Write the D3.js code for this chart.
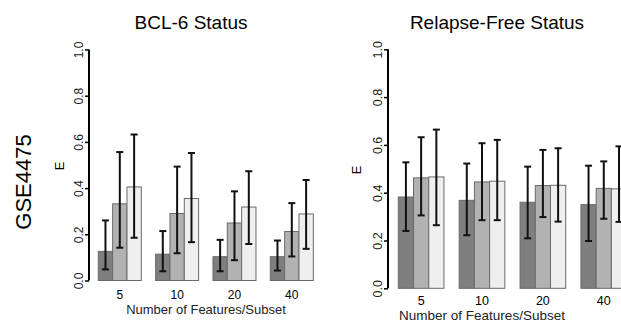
<!DOCTYPE html>
<html>
<head>
<meta charset="utf-8">
<script src="https://cdn.jsdelivr.net/npm/d3@7"></script>
<style>
  body { margin: 0; background: #fff; }
  svg { display: block; font-family: "Liberation Sans", Arial, sans-serif; }
</style>
</head>
<body>
<div id="chart"></div>
<script>
// groups on the x axis and y tick values
const featureCounts = ['5', '10', '20', '40'];
const yTicks = [0, 0.2, 0.4, 0.6, 0.8, 1.0];
const seriesColors = ['#7f7f7f', '#b2b2b2', '#efefef'];

// BCL-6 Status: mean, lower and upper error per series
const bclMean1 = [0.126, 0.114, 0.103, 0.103];
const bclMean2 = [0.332, 0.290, 0.249, 0.212];
const bclMean3 = [0.405, 0.355, 0.318, 0.288];
const bclLow1 = [0.048, 0.040, 0.040, 0.043];
const bclLow2 = [0.142, 0.118, 0.088, 0.104];
const bclLow3 = [0.185, 0.166, 0.158, 0.137];
const bclHigh1 = [0.260, 0.214, 0.176, 0.173];
const bclHigh2 = [0.556, 0.493, 0.386, 0.335];
const bclHigh3 = [0.632, 0.552, 0.473, 0.435];

// Relapse-Free Status
const rfsMean1 = [0.382, 0.368, 0.360, 0.350];
const rfsMean2 = [0.462, 0.445, 0.430, 0.418];
const rfsMean3 = [0.466, 0.448, 0.431, 0.416];
const rfsLow1 = [0.240, 0.222, 0.209, 0.198];
const rfsLow2 = [0.305, 0.285, 0.298, 0.291];
const rfsLow3 = [0.264, 0.285, 0.279, 0.278];
const rfsHigh1 = [0.527, 0.522, 0.509, 0.513];
const rfsHigh2 = [0.632, 0.607, 0.579, 0.531];
const rfsHigh3 = [0.664, 0.621, 0.586, 0.594];

function buildRows(means, lows, highs) {
  const rows = [];
  featureCounts.forEach((g, i) => {
    means.forEach((m, s) => {
      rows.push({ group: g, series: s, mean: m[i], low: lows[s][i], high: highs[s][i] });
    });
  });
  return rows;
}

const panels = [
  {
    title: 'BCL-6 Status', titleX: 191,
    rows: buildRows([bclMean1, bclMean2, bclMean3], [bclLow1, bclLow2, bclLow3], [bclHigh1, bclHigh2, bclHigh3]),
    xRange: [98.3, 313.3], yRange: [280.5, 49.5], axisX: 89,
    tickFont: 12, tickY: 299, labelFont: 13, labelY: 314, labelX: 206, eX: 60
  },
  {
    title: 'Relapse-Free Status', titleX: 497,
    rows: buildRows([rfsMean1, rfsMean2, rfsMean3], [rfsLow1, rfsLow2, rfsLow3], [rfsHigh1, rfsHigh2, rfsHigh3]),
    xRange: [398.3, 626.6], yRange: [288.3, 49.3], axisX: 388,
    tickFont: 12.5, tickY: 305, labelFont: 13.5, labelY: 320, labelX: 482, eX: 357
  }
];

const svg = d3.select('#chart').append('svg')
  .attr('width', 621)
  .attr('height', 323);

// row label
svg.append('text')
  .attr('transform', 'translate(31,182) rotate(-90)')
  .attr('text-anchor', 'middle')
  .style('font-size', '22px')
  .text('GSE4475');

panels.forEach(p => {
  const g = svg.append('g');

  const x = d3.scaleBand()
    .domain(featureCounts)
    .range(p.xRange)
    .paddingInner(0.25)
    .paddingOuter(0);

  const xs = d3.scaleBand()
    .domain([0, 1, 2])
    .range([0, x.bandwidth()]);

  const y = d3.scaleLinear()
    .domain([0, 1])
    .range(p.yRange);

  // title
  g.append('text')
    .attr('x', p.titleX)
    .attr('y', 29)
    .attr('text-anchor', 'middle')
    .style('font-size', '19px')
    .text(p.title);

  // bars
  g.selectAll('.bar')
    .data(p.rows)
    .enter().append('rect')
    .attr('class', 'bar')
    .attr('x', d => x(d.group) + xs(d.series))
    .attr('y', d => y(d.mean))
    .attr('width', xs.bandwidth())
    .attr('height', d => y(0) - y(d.mean))
    .attr('fill', d => seriesColors[d.series])
    .attr('stroke', '#6a6a6a')
    .attr('stroke-width', 1);

  // error bars
  const err = g.selectAll('.err')
    .data(p.rows)
    .enter().append('g')
    .attr('class', 'err')
    .attr('transform', d => `translate(${x(d.group) + xs(d.series) + xs.bandwidth() / 2},0)`)
    .attr('stroke', '#111')
    .attr('stroke-width', 2);

  err.append('line')
    .attr('x1', 0).attr('x2', 0)
    .attr('y1', d => y(d.low))
    .attr('y2', d => y(d.high));
  err.append('line')
    .attr('x1', -3.5).attr('x2', 3.5)
    .attr('y1', d => y(d.low)).attr('y2', d => y(d.low));
  err.append('line')
    .attr('x1', -3.5).attr('x2', 3.5)
    .attr('y1', d => y(d.high)).attr('y2', d => y(d.high));

  // y axis
  const yAxis = g.append('g')
    .attr('transform', `translate(${p.axisX},0)`)
    .call(d3.axisLeft(y).tickValues(yTicks).tickFormat(d3.format('.1f')).tickSize(4));
  yAxis.select('.domain').remove();
  yAxis.append('line')
    .attr('y1', y(0)).attr('y2', y(1))
    .attr('stroke', '#000')
    .attr('stroke-width', 2);
  yAxis.selectAll('.tick line').attr('stroke-width', 1.5);
  yAxis.selectAll('.tick text')
    .attr('x', 0)
    .attr('y', -6.5)
    .attr('dy', 0)
    .attr('transform', 'rotate(-90)')
    .attr('text-anchor', 'middle')
    .attr('fill', '#222')
    .style('font-size', p.tickFont + 'px')
    .style('font-family', '"Liberation Sans", Arial, sans-serif');

  // y label
  g.append('text')
    .attr('transform', `translate(${p.eX + 4},${(y(0) + y(1)) / 2 + 1}) rotate(-90)`)
    .attr('text-anchor', 'middle')
    .style('font-size', '13px')
    .text('E');

  // x group labels
  g.selectAll('.xlab')
    .data(featureCounts)
    .enter().append('text')
    .attr('class', 'xlab')
    .attr('x', d => x(d) + x.bandwidth() / 2)
    .attr('y', p.tickY)
    .attr('text-anchor', 'middle')
    .style('font-size', p.tickFont + 'px')
    .text(d => d);

  // x title
  g.append('text')
    .attr('x', p.labelX)
    .attr('y', p.labelY)
    .attr('text-anchor', 'middle')
    .attr('fill', '#222')
    .style('font-size', p.labelFont + 'px')
    .text('Number of Features/Subset');
});
</script>
</body>
</html>
